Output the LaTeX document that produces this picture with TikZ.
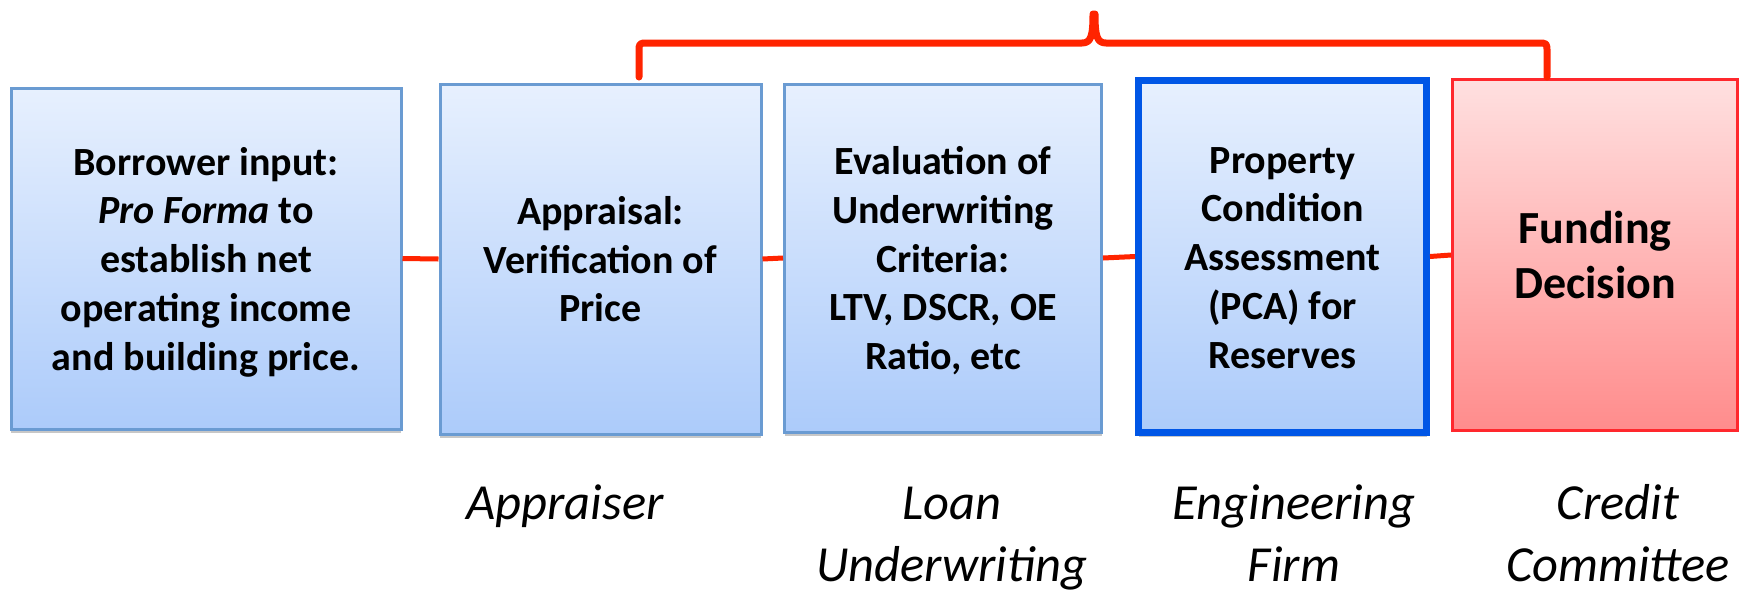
\documentclass[tikz,border=0pt]{standalone}
\usepackage{fontspec}
\setmainfont{Carlito}
\usetikzlibrary{shadows}

\definecolor{blueTop}{RGB}{231,240,254}
\definecolor{blueBot}{RGB}{172,203,250}
\definecolor{blueEdge}{RGB}{106,155,210}
\definecolor{pcaEdge}{RGB}{0,86,230}
\definecolor{redTop}{RGB}{255,224,224}
\definecolor{redBot}{RGB}{255,140,140}
\definecolor{redEdge}{RGB}{255,40,45}
\definecolor{linkRed}{RGB}{255,36,0}

% fixed first-line height and last-line depth keep each text block evenly placed
\newcommand\firstln[1][40pt]{\rule{0pt}{#1}}
\newcommand\lastln{\rule[-12pt]{0pt}{12pt}}

\tikzset{
  stepbox/.style={draw=blueEdge, line width=3pt, top color=blueTop, bottom color=blueBot,
    align=center, inner sep=0pt,
    font=\fontsize{40}{48.75}\selectfont\bfseries,
    drop shadow={shadow xshift=0pt, shadow yshift=-4pt, opacity=0.22, fill=black}},
  pcabox/.style={stepbox, draw=pcaEdge, line width=7pt},
  decisionbox/.style={draw=redEdge, line width=3pt, top color=redTop, bottom color=redBot,
    align=center, inner sep=0pt, font=\fontsize{46}{55}\selectfont\bfseries},
  role/.style={anchor=north, align=center, inner sep=0pt,
    font=\fontsize{50.5}{62}\selectfont\itshape},
  link/.style={draw=linkRed, line width=5pt},
  bracket/.style={draw=linkRed, line width=7pt, line join=round, line cap=round}
}

\begin{document}
\begin{tikzpicture}[x=1pt, y=-1pt]
\useasboundingbox (0,0) rectangle (1746,590);

% process boxes
\node[stepbox, minimum width=390pt, minimum height=341pt] (b1) at (206,258.5)
  {\firstln Borrower input:\\ \textit{Pro Forma} to\\ establish net\\ operating income\\ and building price.\lastln};
\node[stepbox, minimum width=321pt, minimum height=350pt] (b2) at (600.5,259)
  {\firstln Appraisal:\\ Verification of\\ Price\lastln};
\node[stepbox, minimum width=317pt, minimum height=348pt] (b3) at (943,258)
  {\firstln Evaluation of\\ Underwriting\\ Criteria:\\ LTV, DSCR, OE\\ Ratio, etc\lastln};
\node[pcabox, minimum width=288pt, minimum height=352pt] (b4) at (1282.5,256.5)
  {\firstln Property\\ Condition\\ Assessment\\ (PCA) for\\ Reserves\lastln};
\node[decisionbox, minimum width=285pt, minimum height=351pt] (b5) at (1595,255)
  {\firstln[43pt]Funding\\ Decision\lastln};

% links between successive steps
\draw[link] (b1.east) -- (b2.west);
\draw[link] (b2.east) -- (b3.west);
\draw[link] (b3.east) -- (b4.west);
\draw[link] (b4.east) -- (b5.west);

% brace spanning appraisal to funding decision
\coordinate (legL) at ([xshift=38.5pt, yshift=5.5pt]b2.north);
\coordinate (legR) at ([xshift=-48pt, yshift=1pt]b5.north);
\draw[bracket] (legL) -- (legL |- 0,52)
  .. controls (legL |- 0,43) .. ([xshift=9pt]legL |- 0,43)
  -- (1082,43)
  .. controls (1091,43) and (1093,36) .. (1093,14)
  -- (1095,14)
  .. controls (1095,36) and (1097,43) .. (1106,43)
  -- ([xshift=-9pt]legR |- 0,43)
  .. controls (legR |- 0,43) .. (legR |- 0,52)
  -- (legR);

% who performs each step
\node[role] (r2) at (565,476) {\strut Appraiser};
\node[role] (r3) at (952,476) {\strut Loan\\ Underwriting};
\node[role] (r4) at (1294,476) {\strut Engineering\\ Firm};
\node[role] (r5) at (1618,476) {\strut Credit\\ Committee};
\end{tikzpicture}
\end{document}
